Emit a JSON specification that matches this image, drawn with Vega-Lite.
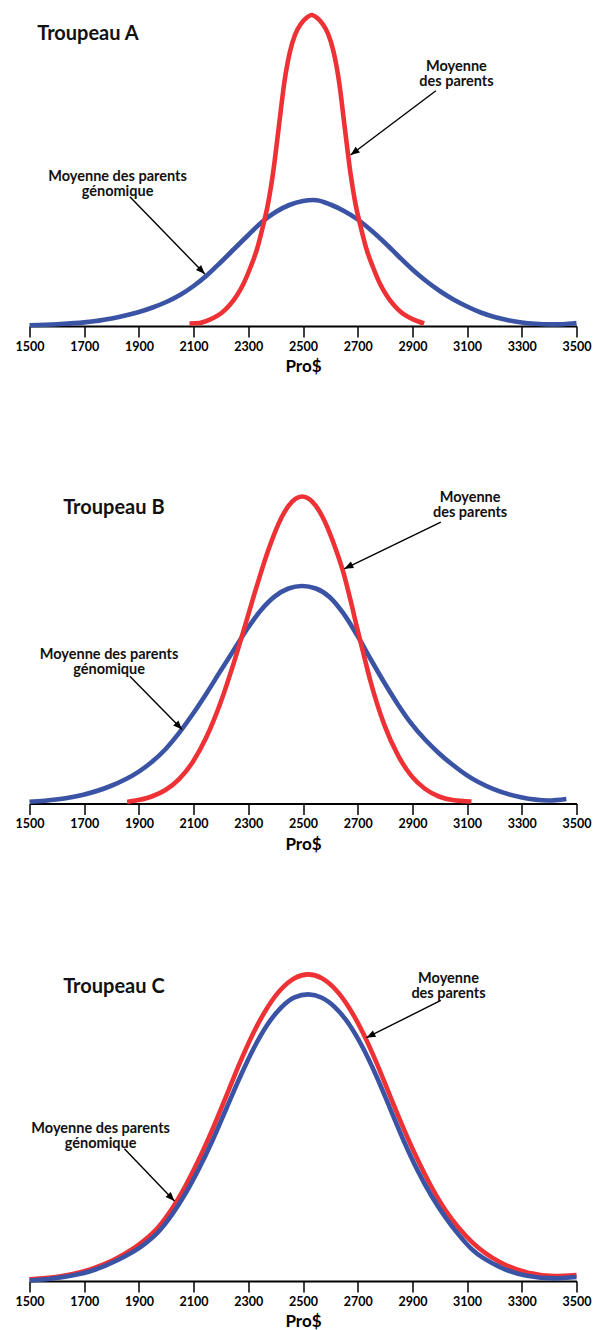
{
  "$schema": "https://vega.github.io/schema/vega-lite/v6.json",
  "background": "white",
  "padding": {"left": 14.5, "top": 0, "right": 0, "bottom": 0},
  "spacing": 102.5,
  "config": {
    "view": {"stroke": null},
    "font": "Lato",
    "axis": {
      "grid": false,
      "domainColor": "#000000",
      "domainWidth": 2,
      "tickColor": "#000000",
      "tickWidth": 1.5,
      "tickSize": 11,
      "labelFont": "Lato",
      "labelFontSize": 12.5,
      "labelFontWeight": "bold",
      "labelColor": "#000000",
      "labelPadding": 3,
      "labelFlush": false,
      "labelOverlap": false,
      "titleFont": "Lato",
      "titleFontSize": 17,
      "titleFontWeight": "bold",
      "titleColor": "#000000",
      "titlePadding": 6
    }
  },
  "datasets": {
    "curves": [
      {"panel": "A", "series": "pm", "pro": 2085, "h": 2.5},
      {"panel": "A", "series": "pm", "pro": 2122, "h": 3},
      {"panel": "A", "series": "pm", "pro": 2142, "h": 4.5},
      {"panel": "A", "series": "pm", "pro": 2172, "h": 8},
      {"panel": "A", "series": "pm", "pro": 2202, "h": 13},
      {"panel": "A", "series": "pm", "pro": 2232, "h": 21},
      {"panel": "A", "series": "pm", "pro": 2257, "h": 30},
      {"panel": "A", "series": "pm", "pro": 2282, "h": 42},
      {"panel": "A", "series": "pm", "pro": 2307, "h": 58},
      {"panel": "A", "series": "pm", "pro": 2332, "h": 77},
      {"panel": "A", "series": "pm", "pro": 2352, "h": 98},
      {"panel": "A", "series": "pm", "pro": 2372, "h": 122},
      {"panel": "A", "series": "pm", "pro": 2392, "h": 156},
      {"panel": "A", "series": "pm", "pro": 2412, "h": 200},
      {"panel": "A", "series": "pm", "pro": 2432, "h": 244},
      {"panel": "A", "series": "pm", "pro": 2452, "h": 274},
      {"panel": "A", "series": "pm", "pro": 2472, "h": 292},
      {"panel": "A", "series": "pm", "pro": 2492, "h": 302},
      {"panel": "A", "series": "pm", "pro": 2512, "h": 308},
      {"panel": "A", "series": "pm", "pro": 2532, "h": 311},
      {"panel": "A", "series": "pm", "pro": 2552, "h": 308},
      {"panel": "A", "series": "pm", "pro": 2572, "h": 302},
      {"panel": "A", "series": "pm", "pro": 2592, "h": 292},
      {"panel": "A", "series": "pm", "pro": 2612, "h": 274},
      {"panel": "A", "series": "pm", "pro": 2632, "h": 244},
      {"panel": "A", "series": "pm", "pro": 2652, "h": 200},
      {"panel": "A", "series": "pm", "pro": 2672, "h": 156},
      {"panel": "A", "series": "pm", "pro": 2692, "h": 122},
      {"panel": "A", "series": "pm", "pro": 2712, "h": 98},
      {"panel": "A", "series": "pm", "pro": 2732, "h": 77},
      {"panel": "A", "series": "pm", "pro": 2757, "h": 58},
      {"panel": "A", "series": "pm", "pro": 2782, "h": 42},
      {"panel": "A", "series": "pm", "pro": 2807, "h": 30},
      {"panel": "A", "series": "pm", "pro": 2832, "h": 21},
      {"panel": "A", "series": "pm", "pro": 2862, "h": 13},
      {"panel": "A", "series": "pm", "pro": 2892, "h": 8},
      {"panel": "A", "series": "pm", "pro": 2922, "h": 4.5},
      {"panel": "A", "series": "pm", "pro": 2943, "h": 2.5},

      {"panel": "A", "series": "gpm", "pro": 1500, "h": 0.8},
      {"panel": "A", "series": "gpm", "pro": 1600, "h": 1.8},
      {"panel": "A", "series": "gpm", "pro": 1700, "h": 3.6},
      {"panel": "A", "series": "gpm", "pro": 1800, "h": 7.5},
      {"panel": "A", "series": "gpm", "pro": 1850, "h": 10.5},
      {"panel": "A", "series": "gpm", "pro": 1900, "h": 14},
      {"panel": "A", "series": "gpm", "pro": 1950, "h": 18.5},
      {"panel": "A", "series": "gpm", "pro": 2000, "h": 24},
      {"panel": "A", "series": "gpm", "pro": 2050, "h": 31},
      {"panel": "A", "series": "gpm", "pro": 2100, "h": 40},
      {"panel": "A", "series": "gpm", "pro": 2150, "h": 51},
      {"panel": "A", "series": "gpm", "pro": 2200, "h": 64},
      {"panel": "A", "series": "gpm", "pro": 2250, "h": 77.5},
      {"panel": "A", "series": "gpm", "pro": 2300, "h": 91},
      {"panel": "A", "series": "gpm", "pro": 2350, "h": 104},
      {"panel": "A", "series": "gpm", "pro": 2400, "h": 114},
      {"panel": "A", "series": "gpm", "pro": 2450, "h": 121},
      {"panel": "A", "series": "gpm", "pro": 2500, "h": 125},
      {"panel": "A", "series": "gpm", "pro": 2537, "h": 126},
      {"panel": "A", "series": "gpm", "pro": 2550, "h": 125.8},
      {"panel": "A", "series": "gpm", "pro": 2600, "h": 121.5},
      {"panel": "A", "series": "gpm", "pro": 2650, "h": 115},
      {"panel": "A", "series": "gpm", "pro": 2700, "h": 106.5},
      {"panel": "A", "series": "gpm", "pro": 2750, "h": 95.5},
      {"panel": "A", "series": "gpm", "pro": 2800, "h": 83},
      {"panel": "A", "series": "gpm", "pro": 2850, "h": 69.5},
      {"panel": "A", "series": "gpm", "pro": 2900, "h": 56.5},
      {"panel": "A", "series": "gpm", "pro": 2950, "h": 45},
      {"panel": "A", "series": "gpm", "pro": 3000, "h": 35},
      {"panel": "A", "series": "gpm", "pro": 3050, "h": 26.5},
      {"panel": "A", "series": "gpm", "pro": 3100, "h": 19.5},
      {"panel": "A", "series": "gpm", "pro": 3150, "h": 13.5},
      {"panel": "A", "series": "gpm", "pro": 3200, "h": 9},
      {"panel": "A", "series": "gpm", "pro": 3250, "h": 5.8},
      {"panel": "A", "series": "gpm", "pro": 3300, "h": 3.5},
      {"panel": "A", "series": "gpm", "pro": 3350, "h": 2.2},
      {"panel": "A", "series": "gpm", "pro": 3400, "h": 1.6},
      {"panel": "A", "series": "gpm", "pro": 3450, "h": 1.8},
      {"panel": "A", "series": "gpm", "pro": 3500, "h": 3},

      {"panel": "B", "series": "pm", "pro": 1857, "h": 1.5},
      {"panel": "B", "series": "pm", "pro": 1897, "h": 3.4},
      {"panel": "B", "series": "pm", "pro": 1947, "h": 7},
      {"panel": "B", "series": "pm", "pro": 1997, "h": 13.5},
      {"panel": "B", "series": "pm", "pro": 2047, "h": 24.4},
      {"panel": "B", "series": "pm", "pro": 2097, "h": 41.5},
      {"panel": "B", "series": "pm", "pro": 2147, "h": 66.4},
      {"panel": "B", "series": "pm", "pro": 2197, "h": 99.7},
      {"panel": "B", "series": "pm", "pro": 2247, "h": 140.6},
      {"panel": "B", "series": "pm", "pro": 2297, "h": 186.2},
      {"panel": "B", "series": "pm", "pro": 2322, "h": 209.3},
      {"panel": "B", "series": "pm", "pro": 2347, "h": 231.6},
      {"panel": "B", "series": "pm", "pro": 2372, "h": 252.5},
      {"panel": "B", "series": "pm", "pro": 2397, "h": 270.9},
      {"panel": "B", "series": "pm", "pro": 2422, "h": 286.2},
      {"panel": "B", "series": "pm", "pro": 2447, "h": 297.6},
      {"panel": "B", "series": "pm", "pro": 2472, "h": 304.6},
      {"panel": "B", "series": "pm", "pro": 2497, "h": 307},
      {"panel": "B", "series": "pm", "pro": 2522, "h": 304.6},
      {"panel": "B", "series": "pm", "pro": 2547, "h": 297.6},
      {"panel": "B", "series": "pm", "pro": 2572, "h": 286.2},
      {"panel": "B", "series": "pm", "pro": 2597, "h": 270.9},
      {"panel": "B", "series": "pm", "pro": 2622, "h": 252.5},
      {"panel": "B", "series": "pm", "pro": 2647, "h": 231.6},
      {"panel": "B", "series": "pm", "pro": 2672, "h": 205.2},
      {"panel": "B", "series": "pm", "pro": 2697, "h": 176.4},
      {"panel": "B", "series": "pm", "pro": 2722, "h": 148.9},
      {"panel": "B", "series": "pm", "pro": 2747, "h": 122},
      {"panel": "B", "series": "pm", "pro": 2797, "h": 78.9},
      {"panel": "B", "series": "pm", "pro": 2847, "h": 48.3},
      {"panel": "B", "series": "pm", "pro": 2897, "h": 27.4},
      {"panel": "B", "series": "pm", "pro": 2947, "h": 14.5},
      {"panel": "B", "series": "pm", "pro": 2997, "h": 7},
      {"panel": "B", "series": "pm", "pro": 3047, "h": 3.5},
      {"panel": "B", "series": "pm", "pro": 3116, "h": 2},

      {"panel": "B", "series": "gpm", "pro": 1500, "h": 1.7},
      {"panel": "B", "series": "gpm", "pro": 1597, "h": 4},
      {"panel": "B", "series": "gpm", "pro": 1697, "h": 8.8},
      {"panel": "B", "series": "gpm", "pro": 1797, "h": 17.5},
      {"panel": "B", "series": "gpm", "pro": 1897, "h": 31.4},
      {"panel": "B", "series": "gpm", "pro": 1947, "h": 41.4},
      {"panel": "B", "series": "gpm", "pro": 1997, "h": 54.3},
      {"panel": "B", "series": "gpm", "pro": 2047, "h": 70.6},
      {"panel": "B", "series": "gpm", "pro": 2097, "h": 89.5},
      {"panel": "B", "series": "gpm", "pro": 2147, "h": 110.1},
      {"panel": "B", "series": "gpm", "pro": 2197, "h": 131.9},
      {"panel": "B", "series": "gpm", "pro": 2247, "h": 153.4},
      {"panel": "B", "series": "gpm", "pro": 2297, "h": 175},
      {"panel": "B", "series": "gpm", "pro": 2347, "h": 193.5},
      {"panel": "B", "series": "gpm", "pro": 2397, "h": 207.1},
      {"panel": "B", "series": "gpm", "pro": 2447, "h": 215},
      {"panel": "B", "series": "gpm", "pro": 2497, "h": 217.5},
      {"panel": "B", "series": "gpm", "pro": 2547, "h": 215},
      {"panel": "B", "series": "gpm", "pro": 2597, "h": 206.5},
      {"panel": "B", "series": "gpm", "pro": 2647, "h": 190.3},
      {"panel": "B", "series": "gpm", "pro": 2697, "h": 168.7},
      {"panel": "B", "series": "gpm", "pro": 2747, "h": 144.5},
      {"panel": "B", "series": "gpm", "pro": 2797, "h": 121},
      {"panel": "B", "series": "gpm", "pro": 2847, "h": 99.1},
      {"panel": "B", "series": "gpm", "pro": 2897, "h": 79.6},
      {"panel": "B", "series": "gpm", "pro": 2947, "h": 63.7},
      {"panel": "B", "series": "gpm", "pro": 2997, "h": 50.3},
      {"panel": "B", "series": "gpm", "pro": 3047, "h": 38.7},
      {"panel": "B", "series": "gpm", "pro": 3097, "h": 28.6},
      {"panel": "B", "series": "gpm", "pro": 3197, "h": 14.3},
      {"panel": "B", "series": "gpm", "pro": 3297, "h": 6.2},
      {"panel": "B", "series": "gpm", "pro": 3397, "h": 3},
      {"panel": "B", "series": "gpm", "pro": 3463, "h": 4.5},

      {"panel": "C", "series": "pm", "pro": 1500, "h": 1.6},
      {"panel": "C", "series": "pm", "pro": 1619, "h": 5},
      {"panel": "C", "series": "pm", "pro": 1719, "h": 11.4},
      {"panel": "C", "series": "pm", "pro": 1819, "h": 22.7},
      {"panel": "C", "series": "pm", "pro": 1919, "h": 40.4},
      {"panel": "C", "series": "pm", "pro": 1969, "h": 53.3},
      {"panel": "C", "series": "pm", "pro": 2019, "h": 71.6},
      {"panel": "C", "series": "pm", "pro": 2069, "h": 94.5},
      {"panel": "C", "series": "pm", "pro": 2119, "h": 121.5},
      {"panel": "C", "series": "pm", "pro": 2169, "h": 151.7},
      {"panel": "C", "series": "pm", "pro": 2219, "h": 184.7},
      {"panel": "C", "series": "pm", "pro": 2269, "h": 218.2},
      {"panel": "C", "series": "pm", "pro": 2319, "h": 248.3},
      {"panel": "C", "series": "pm", "pro": 2369, "h": 273.1},
      {"panel": "C", "series": "pm", "pro": 2419, "h": 291.5},
      {"panel": "C", "series": "pm", "pro": 2469, "h": 302.8},
      {"panel": "C", "series": "pm", "pro": 2519, "h": 306.6},
      {"panel": "C", "series": "pm", "pro": 2569, "h": 302.8},
      {"panel": "C", "series": "pm", "pro": 2619, "h": 291.5},
      {"panel": "C", "series": "pm", "pro": 2669, "h": 273.1},
      {"panel": "C", "series": "pm", "pro": 2719, "h": 248.3},
      {"panel": "C", "series": "pm", "pro": 2769, "h": 218.2},
      {"panel": "C", "series": "pm", "pro": 2819, "h": 184.7},
      {"panel": "C", "series": "pm", "pro": 2869, "h": 151.7},
      {"panel": "C", "series": "pm", "pro": 2919, "h": 121.5},
      {"panel": "C", "series": "pm", "pro": 2969, "h": 94.5},
      {"panel": "C", "series": "pm", "pro": 3019, "h": 71.6},
      {"panel": "C", "series": "pm", "pro": 3069, "h": 53.3},
      {"panel": "C", "series": "pm", "pro": 3119, "h": 38.7},
      {"panel": "C", "series": "pm", "pro": 3219, "h": 19},
      {"panel": "C", "series": "pm", "pro": 3319, "h": 8.5},
      {"panel": "C", "series": "pm", "pro": 3421, "h": 5},
      {"panel": "C", "series": "pm", "pro": 3500, "h": 6},

      {"panel": "C", "series": "gpm", "pro": 1500, "h": 0.5},
      {"panel": "C", "series": "gpm", "pro": 1619, "h": 3.8},
      {"panel": "C", "series": "gpm", "pro": 1719, "h": 9.5},
      {"panel": "C", "series": "gpm", "pro": 1819, "h": 20.5},
      {"panel": "C", "series": "gpm", "pro": 1919, "h": 36.5},
      {"panel": "C", "series": "gpm", "pro": 1969, "h": 48.5},
      {"panel": "C", "series": "gpm", "pro": 2019, "h": 65.5},
      {"panel": "C", "series": "gpm", "pro": 2069, "h": 86.8},
      {"panel": "C", "series": "gpm", "pro": 2119, "h": 112},
      {"panel": "C", "series": "gpm", "pro": 2169, "h": 140.5},
      {"panel": "C", "series": "gpm", "pro": 2219, "h": 172},
      {"panel": "C", "series": "gpm", "pro": 2269, "h": 203.5},
      {"panel": "C", "series": "gpm", "pro": 2319, "h": 232.3},
      {"panel": "C", "series": "gpm", "pro": 2369, "h": 256},
      {"panel": "C", "series": "gpm", "pro": 2419, "h": 273.2},
      {"panel": "C", "series": "gpm", "pro": 2469, "h": 283.6},
      {"panel": "C", "series": "gpm", "pro": 2519, "h": 286.6},
      {"panel": "C", "series": "gpm", "pro": 2569, "h": 283.3},
      {"panel": "C", "series": "gpm", "pro": 2619, "h": 273.2},
      {"panel": "C", "series": "gpm", "pro": 2669, "h": 256.5},
      {"panel": "C", "series": "gpm", "pro": 2719, "h": 233.2},
      {"panel": "C", "series": "gpm", "pro": 2769, "h": 204.5},
      {"panel": "C", "series": "gpm", "pro": 2819, "h": 172.2},
      {"panel": "C", "series": "gpm", "pro": 2869, "h": 139.8},
      {"panel": "C", "series": "gpm", "pro": 2919, "h": 110.6},
      {"panel": "C", "series": "gpm", "pro": 2969, "h": 85.5},
      {"panel": "C", "series": "gpm", "pro": 3019, "h": 64.4},
      {"panel": "C", "series": "gpm", "pro": 3069, "h": 46.4},
      {"panel": "C", "series": "gpm", "pro": 3119, "h": 31.3},
      {"panel": "C", "series": "gpm", "pro": 3219, "h": 14},
      {"panel": "C", "series": "gpm", "pro": 3319, "h": 5.2},
      {"panel": "C", "series": "gpm", "pro": 3421, "h": 2.6},
      {"panel": "C", "series": "gpm", "pro": 3500, "h": 4}
    ],
    "arrows": [
      {"panel": "A", "side": "right", "pro": 2674, "h": 171, "pro2": 2986, "h2": 235.3},
      {"panel": "A", "side": "left", "pro": 2141, "h": 52, "pro2": 1867, "h2": 129.3},
      {"panel": "B", "side": "right", "pro": 2651, "h": 234.7, "pro2": 3004, "h2": 281.3},
      {"panel": "B", "side": "left", "pro": 2058, "h": 74, "pro2": 1867, "h2": 127.3},
      {"panel": "C", "side": "right", "pro": 2732, "h": 243.3, "pro2": 3004, "h2": 280.6},
      {"panel": "C", "side": "left", "pro": 2030, "h": 80, "pro2": 1847, "h2": 132.3}
    ],
    "labels": [
      {"panel": "A", "kind": "title", "pro": 1528, "h": 291.7, "text": "Troupeau A"},
      {"panel": "A", "kind": "callout", "pro": 3061, "h": 259.3, "text": "Moyenne\ndes parents"},
      {"panel": "A", "kind": "callout", "pro": 1822, "h": 149.3, "text": "Moyenne des parents\ngénomique"},
      {"panel": "B", "kind": "title", "pro": 1623, "h": 295.7, "text": "Troupeau B"},
      {"panel": "B", "kind": "callout", "pro": 3111, "h": 305.2, "text": "Moyenne\ndes parents"},
      {"panel": "B", "kind": "callout", "pro": 1791, "h": 148.2, "text": "Moyenne des parents\ngénomique"},
      {"panel": "C", "kind": "title", "pro": 1623, "h": 294, "text": "Troupeau C"},
      {"panel": "C", "kind": "callout", "pro": 3032, "h": 302.5, "text": "Moyenne\ndes parents"},
      {"panel": "C", "kind": "callout", "pro": 1760, "h": 151.6, "text": "Moyenne des parents\ngénomique"}
    ]
  },
  "vconcat": [
    {
      "width": 547,
      "height": 326,
      "encoding": {
        "x": {"field": "pro", "type": "quantitative", "scale": {"domain": [1500, 3500], "nice": false, "zero": false}, "axis": {"values": [1500, 1700, 1900, 2100, 2300, 2500, 2700, 2900, 3100, 3300, 3500], "format": "d", "title": "Pro$"}},
        "y": {"field": "h", "type": "quantitative", "scale": {"domain": [0, 326], "nice": false}, "axis": null}
      },
      "layer": [
        {"data": {"name": "curves"}, "transform": [{"filter": "datum.panel === 'A' && datum.series === 'gpm'"}], "mark": {"type": "line", "color": "#3A53A4", "strokeWidth": 4.6, "interpolate": "monotone"}},
        {"data": {"name": "curves"}, "transform": [{"filter": "datum.panel === 'A' && datum.series === 'pm'"}], "mark": {"type": "line", "color": "#EE3135", "strokeWidth": 4.6, "interpolate": "monotone"}},
        {"data": {"name": "arrows"}, "transform": [{"filter": "datum.panel === 'A'"}], "mark": {"type": "rule", "color": "#000000", "strokeWidth": 1.4}, "encoding": {"x2": {"field": "pro2"}, "y2": {"field": "h2"}}},
        {"data": {"name": "arrows"}, "transform": [{"filter": "datum.panel === 'A' && datum.side === 'left'"}], "mark": {"type": "point", "shape": "M0,0L-0.4,1L0.4,1Z", "size": 324, "filled": true, "opacity": 1, "color": "#000000", "strokeWidth": 0, "angle": 136}},
        {"data": {"name": "arrows"}, "transform": [{"filter": "datum.panel === 'A' && datum.side === 'right'"}], "mark": {"type": "point", "shape": "M0,0L-0.4,1L0.4,1Z", "size": 324, "filled": true, "opacity": 1, "color": "#000000", "strokeWidth": 0, "angle": 233}},
        {"data": {"name": "labels"}, "transform": [{"filter": "datum.panel === 'A' && datum.kind === 'callout'"}], "mark": {"type": "text", "font": "Lato", "fontSize": 14.5, "fontWeight": "bold", "color": "#111111", "align": "center", "baseline": "middle", "lineBreak": "\n", "lineHeight": 15}, "encoding": {"text": {"field": "text"}}},
        {"data": {"name": "labels"}, "transform": [{"filter": "datum.panel === 'A' && datum.kind === 'title'"}], "mark": {"type": "text", "font": "Lato", "fontSize": 20, "fontWeight": "bold", "color": "#111111", "align": "left", "baseline": "middle"}, "encoding": {"text": {"field": "text"}}}
      ]
    },
    {
      "width": 547,
      "height": 326,
      "encoding": {
        "x": {"field": "pro", "type": "quantitative", "scale": {"domain": [1500, 3500], "nice": false, "zero": false}, "axis": {"values": [1500, 1700, 1900, 2100, 2300, 2500, 2700, 2900, 3100, 3300, 3500], "format": "d", "title": "Pro$"}},
        "y": {"field": "h", "type": "quantitative", "scale": {"domain": [0, 326], "nice": false}, "axis": null}
      },
      "layer": [
        {"data": {"name": "curves"}, "transform": [{"filter": "datum.panel === 'B' && datum.series === 'gpm'"}], "mark": {"type": "line", "color": "#3A53A4", "strokeWidth": 4.6, "interpolate": "monotone"}},
        {"data": {"name": "curves"}, "transform": [{"filter": "datum.panel === 'B' && datum.series === 'pm'"}], "mark": {"type": "line", "color": "#EE3135", "strokeWidth": 4.6, "interpolate": "monotone"}},
        {"data": {"name": "arrows"}, "transform": [{"filter": "datum.panel === 'B'"}], "mark": {"type": "rule", "color": "#000000", "strokeWidth": 1.4}, "encoding": {"x2": {"field": "pro2"}, "y2": {"field": "h2"}}},
        {"data": {"name": "arrows"}, "transform": [{"filter": "datum.panel === 'B' && datum.side === 'left'"}], "mark": {"type": "point", "shape": "M0,0L-0.4,1L0.4,1Z", "size": 324, "filled": true, "opacity": 1, "color": "#000000", "strokeWidth": 0, "angle": 135.5}},
        {"data": {"name": "arrows"}, "transform": [{"filter": "datum.panel === 'B' && datum.side === 'right'"}], "mark": {"type": "point", "shape": "M0,0L-0.4,1L0.4,1Z", "size": 324, "filled": true, "opacity": 1, "color": "#000000", "strokeWidth": 0, "angle": 244}},
        {"data": {"name": "labels"}, "transform": [{"filter": "datum.panel === 'B' && datum.kind === 'callout'"}], "mark": {"type": "text", "font": "Lato", "fontSize": 14.5, "fontWeight": "bold", "color": "#111111", "align": "center", "baseline": "middle", "lineBreak": "\n", "lineHeight": 15}, "encoding": {"text": {"field": "text"}}},
        {"data": {"name": "labels"}, "transform": [{"filter": "datum.panel === 'B' && datum.kind === 'title'"}], "mark": {"type": "text", "font": "Lato", "fontSize": 20, "fontWeight": "bold", "color": "#111111", "align": "left", "baseline": "middle"}, "encoding": {"text": {"field": "text"}}}
      ]
    },
    {
      "width": 547,
      "height": 326,
      "encoding": {
        "x": {"field": "pro", "type": "quantitative", "scale": {"domain": [1500, 3500], "nice": false, "zero": false}, "axis": {"values": [1500, 1700, 1900, 2100, 2300, 2500, 2700, 2900, 3100, 3300, 3500], "format": "d", "title": "Pro$"}},
        "y": {"field": "h", "type": "quantitative", "scale": {"domain": [0, 326], "nice": false}, "axis": null}
      },
      "layer": [
        {"data": {"name": "curves"}, "transform": [{"filter": "datum.panel === 'C' && datum.series === 'pm'"}], "mark": {"type": "line", "color": "#EE3135", "strokeWidth": 4.6, "interpolate": "monotone"}},
        {"data": {"name": "curves"}, "transform": [{"filter": "datum.panel === 'C' && datum.series === 'gpm'"}], "mark": {"type": "line", "color": "#3A53A4", "strokeWidth": 4.6, "interpolate": "monotone"}},
        {"data": {"name": "arrows"}, "transform": [{"filter": "datum.panel === 'C'"}], "mark": {"type": "rule", "color": "#000000", "strokeWidth": 1.4}, "encoding": {"x2": {"field": "pro2"}, "y2": {"field": "h2"}}},
        {"data": {"name": "arrows"}, "transform": [{"filter": "datum.panel === 'C' && datum.side === 'left'"}], "mark": {"type": "point", "shape": "M0,0L-0.4,1L0.4,1Z", "size": 324, "filled": true, "opacity": 1, "color": "#000000", "strokeWidth": 0, "angle": 136}},
        {"data": {"name": "arrows"}, "transform": [{"filter": "datum.panel === 'C' && datum.side === 'right'"}], "mark": {"type": "point", "shape": "M0,0L-0.4,1L0.4,1Z", "size": 324, "filled": true, "opacity": 1, "color": "#000000", "strokeWidth": 0, "angle": 243}},
        {"data": {"name": "labels"}, "transform": [{"filter": "datum.panel === 'C' && datum.kind === 'callout'"}], "mark": {"type": "text", "font": "Lato", "fontSize": 14.5, "fontWeight": "bold", "color": "#111111", "align": "center", "baseline": "middle", "lineBreak": "\n", "lineHeight": 15}, "encoding": {"text": {"field": "text"}}},
        {"data": {"name": "labels"}, "transform": [{"filter": "datum.panel === 'C' && datum.kind === 'title'"}], "mark": {"type": "text", "font": "Lato", "fontSize": 20, "fontWeight": "bold", "color": "#111111", "align": "left", "baseline": "middle"}, "encoding": {"text": {"field": "text"}}}
      ]
    }
  ]
}
